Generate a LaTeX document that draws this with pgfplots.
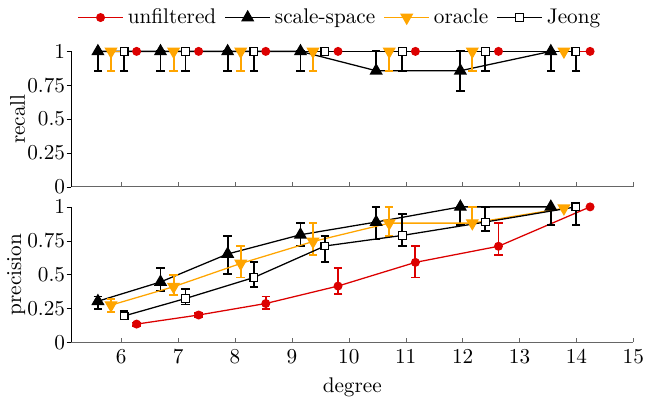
\documentclass[border=0pt]{standalone}
\usepackage{pgfplots}
\pgfplotsset{compat=1.18}
\definecolor{myred}{RGB}{220,0,0}
\definecolor{myorange}{RGB}{255,165,0}
\begin{document}
\begin{tikzpicture}
\pgfplotsset{
  myax/.style={
    width=265pt, height=63.8pt, scale only axis,
    xmin=5.12, xmax=15, ymin=0, ymax=1,
    axis x line*=bottom, axis y line*=left,
    xtick={6,7,...,15}, ytick={0,0.25,0.5,0.75,1},
    clip=false,
    major tick length=2.2pt,
    xtick align=inside, ytick align=outside,
    x axis line style={black!60}, xtick style={black!60},
    ytick style={black},
    yticklabel style={inner xsep=0.5pt},
    ylabel shift=-3pt,
  },
  ser/.style={line width=0.6pt,
    error bars/y dir=both, error bars/y explicit,
    error bars/error bar style={line width=0.9pt},
    error bars/error mark options={rotate=90, line width=0.9pt, mark size=2pt}},
  sred/.style={ser, color=myred, mark=*, mark size=1.8pt},
  sss/.style={ser, color=black, mark=triangle*, mark size=3pt},
  sor/.style={ser, color=myorange, mark=triangle*, mark size=3pt, mark options={rotate=180}},
  sje/.style={ser, color=black, mark=square*, mark size=1.8pt, mark options={fill=white}},
  legend image code/.code={\draw[mark repeat=2,mark phase=2] plot coordinates {(0cm,0cm)(0.37cm,0cm)(0.74cm,0cm)};},
}
% lower: precision
\begin{axis}[myax, ylabel={precision}, xlabel={degree}]
\addplot[sred] coordinates {
 (6.27,0.134) += (0,0.012) -= (0,0.012)
 (7.36,0.201) += (0,0.016) -= (0,0.016)
 (8.54,0.286) += (0,0.052) -= (0,0.042)
 (9.81,0.415) += (0,0.132) -= (0,0.062)
 (11.17,0.590) += (0,0.119) -= (0,0.112)
 (12.63,0.709) += (0,0.174) -= (0,0.067)
 (14.24,1.0) += (0,0) -= (0,0)
};
\addplot[sss] coordinates {
 (5.59,0.303) += (0,0.035) -= (0,0.059)
 (6.69,0.445) += (0,0.102) -= (0,0.069)
 (7.87,0.652) += (0,0.134) -= (0,0.150)
 (9.15,0.794) += (0,0.089) -= (0,0.083)
 (10.48,0.888) += (0,0.112) -= (0,0.129)
 (11.96,1.0) += (0,0) -= (0,0.137)
 (13.55,1.0) += (0,0) -= (0,0.137)
};
\addplot[sor] coordinates {
 (5.82,0.274) += (0,0.047) -= (0,0.048)
 (6.92,0.410) += (0,0.090) -= (0,0.062)
 (8.10,0.582) += (0,0.129) -= (0,0.104)
 (9.37,0.744) += (0,0.139) -= (0,0.102)
 (10.71,0.880) += (0,0.120) -= (0,0.094)
 (12.17,0.880) += (0,0.120) -= (0,0)
 (13.78,0.990) += (0,0) -= (0,0)
};
\addplot[sje] coordinates {
 (6.05,0.194) += (0,0.037) -= (0,0.025)
 (7.13,0.323) += (0,0.067) -= (0,0.044)
 (8.33,0.478) += (0,0.112) -= (0,0.070)
 (9.58,0.711) += (0,0.075) -= (0,0.121)
 (10.94,0.789) += (0,0.156) -= (0,0.080)
 (12.40,0.888) += (0,0.112) -= (0,0.065)
 (13.99,1.0) += (0,0) -= (0,0.137)
};
\end{axis}
% upper: recall
\begin{axis}[myax, yshift=73.3pt, ylabel={recall}, xticklabels={},
  legend columns=4,
  legend style={at={(0.48,1.25)}, anchor=center, draw=none, fill=none,
    /tikz/every even column/.append style={column sep=2pt}}]
\addplot[sred] coordinates {
 (6.27,1) (7.36,1) (8.54,1) (9.81,1) (11.17,1) (12.63,1) (14.24,1)
};
\addlegendentry{unfiltered}
\addplot[sss] coordinates {
 (5.59,1) += (0,0) -= (0,0.143)
 (6.69,1) += (0,0) -= (0,0.143)
 (7.87,1) += (0,0) -= (0,0.143)
 (9.15,1) += (0,0) -= (0,0.143)
 (10.48,0.857) += (0,0.143) -= (0,0)
 (11.96,0.857) += (0,0.143) -= (0,0.148)
 (13.55,1) += (0,0) -= (0,0.143)
};
\addlegendentry{scale-space}
\addplot[sor] coordinates {
 (5.82,1) += (0,0) -= (0,0.143)
 (6.92,1) += (0,0) -= (0,0.143)
 (8.10,1) += (0,0) -= (0,0.143)
 (9.37,1) += (0,0) -= (0,0.143)
 (10.71,1) += (0,0) -= (0,0.143)
 (12.17,1) += (0,0) -= (0,0.143)
 (13.78,1) += (0,0) -= (0,0)
};
\addlegendentry{oracle}
\addplot[sje] coordinates {
 (6.05,1) += (0,0) -= (0,0.143)
 (7.13,1) += (0,0) -= (0,0.143)
 (8.33,1) += (0,0) -= (0,0.143)
 (9.58,1) += (0,0) -= (0,0)
 (10.94,1) += (0,0) -= (0,0.143)
 (12.40,1) += (0,0) -= (0,0.143)
 (13.99,1) += (0,0) -= (0,0.143)
};
\addlegendentry{Jeong}
\end{axis}
\end{tikzpicture}
\end{document}
